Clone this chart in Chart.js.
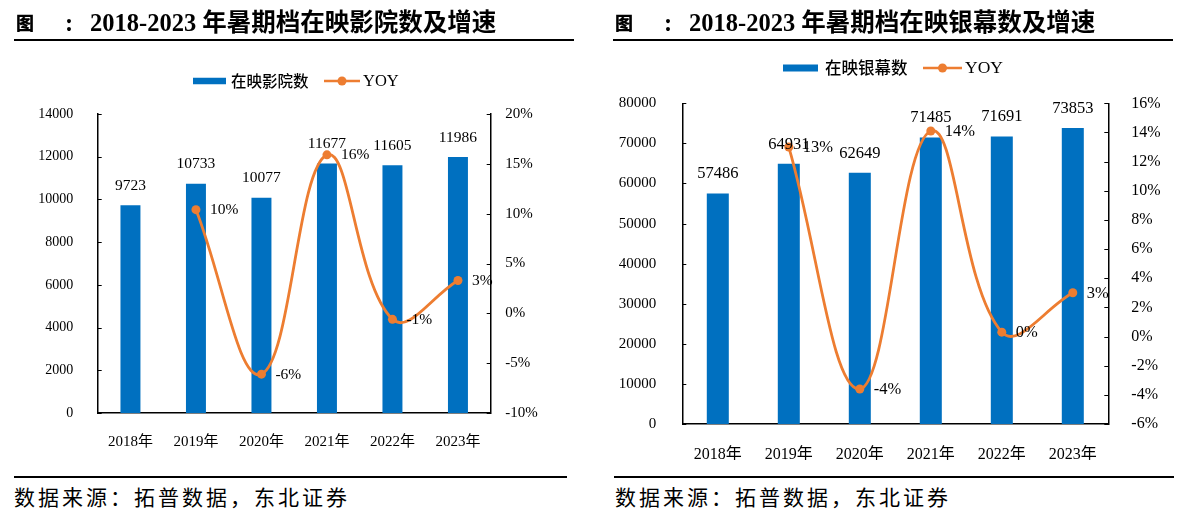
<!DOCTYPE html>
<html lang="zh-CN">
<head>
<meta charset="utf-8">
<title>2018-2023 年暑期档在映影院数 / 银幕数及增速</title>
<script src="https://cdn.jsdelivr.net/npm/chart.js@4.4.1/dist/chart.umd.min.js"></script>
<style>
  html, body { margin: 0; padding: 0; background: #fff; }
  body { position: relative; width: 1179px; height: 515px; overflow: hidden; }
  canvas { position: absolute; top: 0; }
  .fig, .colon, .ttl { position: absolute; top: 6px; height: 33px; line-height: 33px; white-space: nowrap; color: #000; font-weight: bold; }
  .fig   { font: 900 18px "Noto Sans CJK SC", sans-serif; line-height: 33px; }
  .colon { font: bold 24.5px "Liberation Serif", serif; line-height: 33px; }
  .ttl   { font: bold 24.5px "Liberation Serif", "Noto Sans CJK SC", serif; line-height: 33px; }
  .rule  { position: absolute; height: 2px; background: #000; }
  .src   { position: absolute; top: 481px; height: 28px; line-height: 28px; white-space: nowrap;
           font: 21px "Noto Sans CJK SC", sans-serif; letter-spacing: 3px; color: #000; }
</style>
</head>
<body>

<canvas id="chartCinema" width="590" height="460" style="left:0"></canvas>
<canvas id="chartScreen" width="589" height="460" style="left:590px"></canvas>

<!-- judul & garis panel kiri -->
<div class="fig" style="left:16px">图</div>
<div class="colon" style="left:65px">:</div>
<div class="ttl" style="left:90px">2018-2023 年暑期档在映影院数及增速</div>
<div class="rule" style="left:14px; width:560px; top:39px"></div>
<div class="rule" style="left:14px; width:553px; top:476px"></div>
<div class="src" style="left:14px">数据来源：拓普数据，东北证券</div>

<!-- judul & garis panel kanan -->
<div class="fig" style="left:615px">图</div>
<div class="colon" style="left:664px">:</div>
<div class="ttl" style="left:689px">2018-2023 年暑期档在映银幕数及增速</div>
<div class="rule" style="left:613px; width:560px; top:39px"></div>
<div class="rule" style="left:614px; width:560px; top:476px"></div>
<div class="src" style="left:615px">数据来源：拓普数据，东北证券</div>

<script>
/* --------------------------------------------------------------------------
   1. DATA
   -------------------------------------------------------------------------- */
const years = ['2018年', '2019年', '2020年', '2021年', '2022年', '2023年'];

// 在映影院数 + YOY (%)
const cinemaCount = [9723, 10733, 10077, 11677, 11605, 11986];
const cinemaYoy   = [null, 10.4, -6.1, 15.9, -0.6, 3.3];

// 在映银幕数 + YOY (%)
const screenCount = [57486, 64931, 62649, 71485, 71691, 73853];
const screenYoy   = [null, 13.0, -3.6, 14.1, 0.3, 3.0];

// tick sumbu
const cinemaTicks    = [0, 2000, 4000, 6000, 8000, 10000, 12000, 14000];
const cinemaYoyTicks = [-10, -5, 0, 5, 10, 15, 20];
const screenTicks    = [0, 10000, 20000, 30000, 40000, 50000, 60000, 70000, 80000];
const screenYoyTicks = [-6, -4, -2, 0, 2, 4, 6, 8, 10, 12, 14, 16];

const COLORS = { bar: '#0070C0', line: '#ED7D31', ink: '#000000' };
const SERIF = '"Liberation Serif", "Times New Roman", "Noto Sans CJK SC", serif';
const CJK = '"Noto Sans CJK SC", sans-serif';

const pct = (v) => Math.round(v) + '%';

/* --------------------------------------------------------------------------
   2. PLUGIN: tick ke dalam, label nilai, legenda
   -------------------------------------------------------------------------- */
const decoPlugin = {
  id: 'deco',
  afterDraw(chart, args, opts) {
    const ctx = chart.ctx;
    const area = chart.chartArea;
    ctx.save();

    // tick kecil mengarah ke dalam area plot
    ctx.strokeStyle = COLORS.ink;
    ctx.lineWidth = 1;
    [['y', area.left, 1], ['y1', area.right, -1]].forEach(([id, x0, dir]) => {
      const s = chart.scales[id];
      s.ticks.forEach((t, i) => {
        const y = Math.round(s.getPixelForTick(i)) + 0.5;
        ctx.beginPath();
        ctx.moveTo(x0, y);
        ctx.lineTo(x0 + dir * 4, y);
        ctx.stroke();
      });
    });

    // label di atas batang & di kanan titik
    ctx.fillStyle = COLORS.ink;
    ctx.font = opts.labelSize + 'px ' + SERIF;
    ctx.textBaseline = 'middle';
    ctx.textAlign = 'center';
    chart.getDatasetMeta(0).data.forEach((el, i) => {
      ctx.fillText(String(chart.data.datasets[0].data[i]), el.x, el.y - 19.5);
    });
    ctx.textAlign = 'left';
    chart.getDatasetMeta(1).data.forEach((el, i) => {
      const v = chart.data.datasets[1].data[i];
      if (v == null) return;
      ctx.fillText(pct(v), el.x + 14, el.y + 0.5);
    });

    // legenda
    const lg = opts.legend;
    ctx.fillStyle = COLORS.bar;
    ctx.fillRect(lg.x, lg.y - lg.boxH / 2, lg.boxW, lg.boxH);
    ctx.fillStyle = COLORS.ink;
    ctx.font = '500 ' + lg.size + 'px ' + CJK;
    ctx.fillText(chart.data.datasets[0].label, lg.textX, lg.y);
    ctx.strokeStyle = COLORS.line;
    ctx.lineWidth = 2.5;
    ctx.beginPath();
    ctx.moveTo(lg.lineX0, lg.y);
    ctx.lineTo(lg.lineX1, lg.y);
    ctx.stroke();
    ctx.fillStyle = COLORS.line;
    ctx.beginPath();
    ctx.arc((lg.lineX0 + lg.lineX1) / 2, lg.y, 4.5, 0, Math.PI * 2);
    ctx.fill();
    ctx.fillStyle = COLORS.ink;
    ctx.font = (lg.size + 1) + 'px ' + SERIF;
    ctx.fillText(chart.data.datasets[1].label, lg.yoyX, lg.y + 0.5);

    ctx.restore();
  },
};

/* --------------------------------------------------------------------------
   3. CHART
   -------------------------------------------------------------------------- */
function makeChart(canvasId, c) {
  return new Chart(document.getElementById(canvasId), {
    type: 'bar',
    data: {
      labels: years,
      datasets: [{
        type: 'bar',
        label: c.barText,
        data: c.bars,
        yAxisID: 'y',
        backgroundColor: COLORS.bar,
        categoryPercentage: 1,
        barPercentage: c.barPct,
        order: 2,
      }, {
        type: 'line',
        label: 'YOY',
        data: c.yoy,
        yAxisID: 'y1',
        borderColor: COLORS.line,
        backgroundColor: COLORS.line,
        borderWidth: 2.8,
        pointRadius: 4.5,
        pointBorderWidth: 0,
        tension: 0.4,
        order: 1,
      }],
    },
    options: {
      responsive: false,
      animation: false,
      layout: { padding: { top: c.top, left: 0, right: 0, bottom: 0 } },
      plugins: {
        legend: { display: false },
        tooltip: { enabled: false },
        deco: { labelSize: c.labelSize, legend: c.legend },
      },
      scales: {
        x: {
          grid: { display: false },
          border: { display: true, color: COLORS.ink, width: 1.5 },
          ticks: { color: COLORS.ink, padding: c.xPad, font: { family: SERIF, size: c.xSize } },
          afterFit: (s) => { s.height = c.bottomH; },
        },
        y: {
          position: 'left',
          min: c.leftTicks[0],
          max: c.leftTicks[c.leftTicks.length - 1],
          afterBuildTicks: (s) => { s.ticks = c.leftTicks.map((v) => ({ value: v })); },
          grid: { display: false },
          border: { display: true, color: COLORS.ink, width: 1.5 },
          ticks: {
            color: COLORS.ink, padding: c.leftPad, font: { family: SERIF, size: c.leftSize },
            callback: (v) => String(v),   // tanpa pemisah ribuan
          },
          afterFit: (s) => { s.width = c.leftW; },
        },
        y1: {
          position: 'right',
          min: c.rightTicks[0],
          max: c.rightTicks[c.rightTicks.length - 1],
          afterBuildTicks: (s) => { s.ticks = c.rightTicks.map((v) => ({ value: v })); },
          grid: { display: false },
          border: { display: true, color: COLORS.ink, width: 1.5 },
          ticks: {
            color: COLORS.ink, padding: c.rightPad, font: { family: SERIF, size: c.rightSize },
            callback: (v) => v + '%',
          },
          afterFit: (s) => { s.width = c.rightW; },
        },
      },
    },
    plugins: [decoPlugin],
  });
}

// ---- kiri: 在映影院数 ----
makeChart('chartCinema', {
  barText: '在映影院数', bars: cinemaCount, yoy: cinemaYoy,
  leftTicks: cinemaTicks, rightTicks: cinemaYoyTicks,
  barPct: 0.305, top: 114, leftW: 97.7, rightW: 99.3, bottomH: 47,
  leftPad: 16.5, rightPad: 6.5, xPad: 12,
  leftSize: 14, rightSize: 15, xSize: 15, labelSize: 15.5,
  legend: { x: 193, y: 81, boxW: 33, boxH: 6.5, textX: 231, lineX0: 324, lineX1: 360, yoyX: 363, size: 15.5 },
});

// ---- kanan: 在映银幕数 ----
makeChart('chartScreen', {
  barText: '在映银幕数', bars: screenCount, yoy: screenYoy,
  leftTicks: screenTicks, rightTicks: screenYoyTicks,
  barPct: 0.31, top: 103.3, leftW: 92.3, rightW: 70.7, bottomH: 36,
  leftPad: 18, rightPad: 15, xPad: 13,
  leftSize: 15, rightSize: 16, xSize: 16, labelSize: 16.5,
  legend: { x: 193, y: 68, boxW: 35, boxH: 7, textX: 235, lineX0: 333, lineX1: 372, yoyX: 375, size: 16.5 },
});
</script>
</body>
</html>
